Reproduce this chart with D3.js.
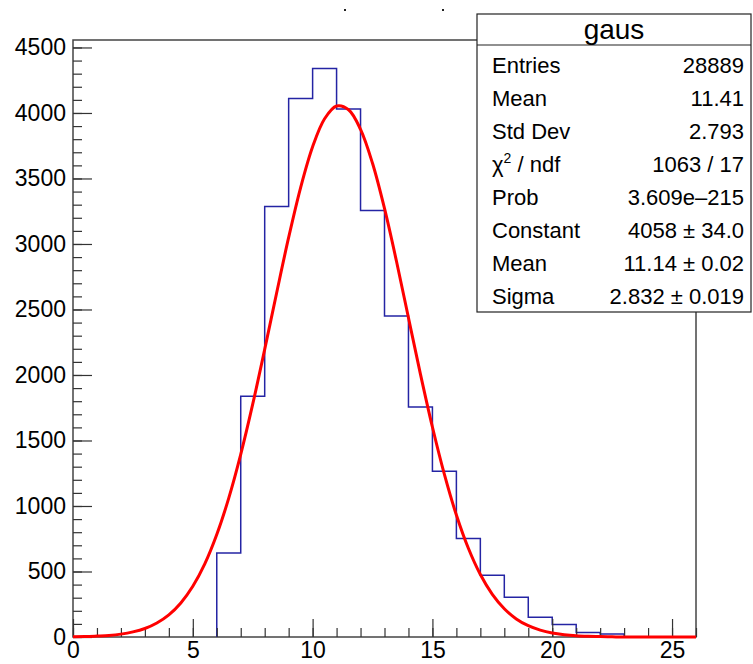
<!DOCTYPE html>
<html>
<head>
<meta charset="utf-8">
<script src="https://cdn.jsdelivr.net/npm/d3@7"></script>
<style>
  body { margin: 0; background: #fff; }
  svg { display: block; }
  text { font-family: "Liberation Sans", Arial, sans-serif; fill: #000; }
</style>
</head>
<body>
<svg id="canvas"></svg>
<script>
"use strict";

// histogram bins, 1 unit wide, starting at binStarts
const binStarts = [6, 7, 8, 9, 10, 11, 12, 13, 14, 15, 16, 17, 18, 19, 20, 21, 22];
const binCounts = [641, 1837, 3287, 4110, 4339, 4031, 3255, 2450, 1756, 1265, 751, 471, 303, 150, 95, 34, 23];

// fitted curve
const fitX = [0, 0.5, 1, 1.5, 2, 2.5, 3, 3.5, 4, 4.5, 5, 5.5, 6, 6.5, 7, 7.5, 8, 8.5, 9, 9.5, 10, 10.5,
              11, 11.5, 12, 12.5, 13, 13.5, 14, 14.5, 15, 15.5, 16, 16.5, 17, 17.5, 18, 18.5, 19, 19.5,
              20, 20.5, 21, 21.5, 22, 22.5, 23, 24, 25, 26];
const fitY = [2, 3, 7, 12, 22, 39, 65, 107, 169, 260, 387, 558, 782, 1060, 1394, 1777, 2195, 2628, 3050, 3431,
              3742, 3956, 4053, 4025, 3875, 3616, 3271, 2868, 2437, 2007, 1603, 1241, 931, 677, 477, 326,
              216, 138, 86, 52, 30, 17, 9, 5, 3, 1, 0, 0, 0, 0];

const xMajor = [0, 5, 10, 15, 20, 25];
const yMajor = [0, 500, 1000, 1500, 2000, 2500, 3000, 3500, 4000, 4500];

const statsTitle = "gaus";
const statsLabels = ["Entries", "Mean", "Std Dev", "χ2 / ndf", "Prob", "Constant", "Mean", "Sigma"];
const statsValues = ["28889", "11.41", "2.793", "1063 / 17", "3.609e\u2013215", "4058 \u00b1 34.0", "11.14 \u00b1 0.02", "2.832 \u00b1 0.019"];

let width = 753;
let height = 664;
let margin = { left: 73, right: 57, top: 40, bottom: 27 };

let canvas = d3.select('#canvas')
    .attr('width', width)
    .attr('height', height);

let xScale = d3.scaleLinear()
    .domain([0, 26])
    .range([margin.left, width - margin.right]);

let yScale = d3.scaleLinear()
    .domain([0, 4557])
    .range([height - margin.bottom, margin.top]);

// frame
canvas.append('rect')
    .attr('x', margin.left)
    .attr('y', margin.top)
    .attr('width', width - margin.left - margin.right)
    .attr('height', height - margin.top - margin.bottom)
    .attr('fill', 'none')
    .attr('stroke', '#444')
    .attr('stroke-width', 1.5);

// histogram outline as steps
let histPts = [[binStarts[0], 0]];
binStarts.forEach((b, i) => {
    histPts.push([b, binCounts[i]]);
    histPts.push([b + 1, binCounts[i]]);
});
histPts.push([binStarts[binStarts.length - 1] + 1, 0]);

canvas.append('path')
    .datum(histPts)
    .attr('fill', 'none')
    .attr('stroke', '#2424a4')
    .attr('stroke-width', 1.5)
    .attr('d', d3.line().x(d => xScale(d[0])).y(d => yScale(d[1])));

// axes
const tickText = (g) => g.selectAll('text')
    .style('font-family', '"Liberation Sans", Arial, sans-serif')
    .style('font-size', '23px')
    .attr('fill', '#000');

let xMinor = d3.range(0, 27);
canvas.append('g')
    .attr('transform', 'translate(0,' + (height - margin.bottom) + ')')
    .call(d3.axisBottom(xScale).tickValues(xMinor).tickSizeInner(-9).tickSizeOuter(0).tickFormat(''))
    .call(g => g.select('.domain').remove());
canvas.append('g')
    .attr('transform', 'translate(0,' + (height - margin.bottom) + ')')
    .call(d3.axisBottom(xScale).tickValues(xMajor).tickSizeInner(-18).tickSizeOuter(0).tickPadding(5).tickFormat(d3.format('d')))
    .call(g => g.select('.domain').remove())
    .call(tickText);

let yMinor = d3.range(0, 4600, 100);
canvas.append('g')
    .attr('transform', 'translate(' + margin.left + ',0)')
    .call(d3.axisLeft(yScale).tickValues(yMinor).tickSizeInner(-9).tickSizeOuter(0).tickFormat(''))
    .call(g => g.select('.domain').remove());
canvas.append('g')
    .attr('transform', 'translate(' + margin.left + ',0)')
    .call(d3.axisLeft(yScale).tickValues(yMajor).tickSizeInner(-19).tickSizeOuter(0).tickPadding(7).tickFormat(d3.format('d')))
    .call(g => g.select('.domain').remove())
    .call(tickText);

canvas.selectAll('.tick line').attr('stroke', '#333').attr('stroke-width', 1.2);

// fit curve
canvas.append('path')
    .datum(fitX.map((x, i) => [x, fitY[i]]))
    .attr('fill', 'none')
    .attr('stroke', '#ff0000')
    .attr('stroke-width', 3)
    .attr('stroke-linejoin', 'round')
    .attr('d', d3.line().curve(d3.curveCatmullRom).x(d => xScale(d[0])).y(d => yScale(d[1])));

// bits of the clipped title at the very top
canvas.selectAll('.titlebit')
    .data([345, 443])
    .enter()
    .append('rect')
    .attr('x', d => d - 1)
    .attr('y', 9)
    .attr('width', 2)
    .attr('height', 2)
    .attr('fill', '#222');

// stats box
let box = { x: 477, y: 14, w: 274, h: 298, head: 31, row: 33 };
let stats = canvas.append('g');
stats.append('rect')
    .attr('x', box.x).attr('y', box.y)
    .attr('width', box.w).attr('height', box.h)
    .attr('fill', '#fff')
    .attr('stroke', '#222')
    .attr('stroke-width', 1.2);
stats.append('line')
    .attr('x1', box.x).attr('x2', box.x + box.w)
    .attr('y1', box.y + box.head).attr('y2', box.y + box.head)
    .attr('stroke', '#222')
    .attr('stroke-width', 1.2);
stats.append('text')
    .attr('x', box.x + box.w / 2)
    .attr('y', box.y + 25)
    .attr('text-anchor', 'middle')
    .style('font-size', '28px')
    .text(statsTitle);

statsLabels.forEach((lab, i) => {
    let yy = box.y + box.head + 28 + i * box.row;
    let t = stats.append('text')
        .attr('x', box.x + 15)
        .attr('y', yy)
        .style('font-size', '22px');
    if (lab.startsWith('χ2')) {
        t.append('tspan').text('χ');
        t.append('tspan').attr('dy', -9).style('font-size', '14px').text('2');
        t.append('tspan').attr('dy', 9).text(' / ndf');
    } else {
        t.text(lab);
    }
    stats.append('text')
        .attr('x', box.x + box.w - 7)
        .attr('y', yy)
        .attr('text-anchor', 'end')
        .style('font-size', '22px')
        .text(statsValues[i]);
});
</script>
</body>
</html>
